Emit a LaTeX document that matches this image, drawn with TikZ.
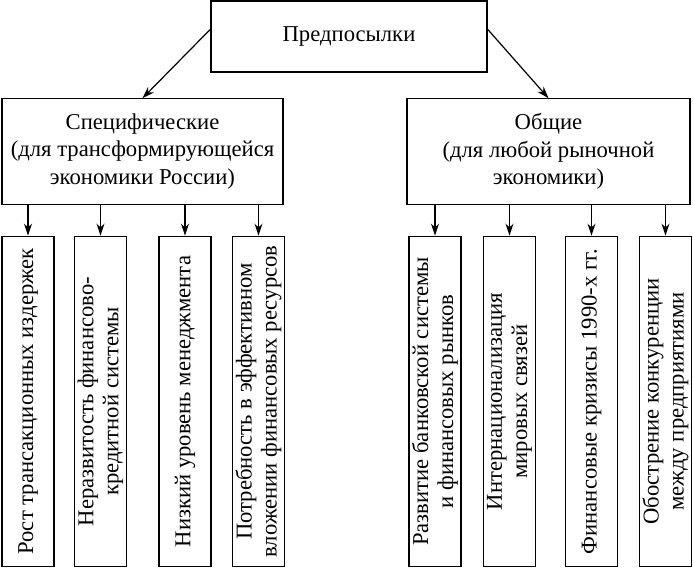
\documentclass[tikz,border=0pt]{standalone}
\usepackage{fontspec}
\setmainfont{Liberation Serif}
\usetikzlibrary{arrows.meta}

\tikzset{
  box/.style={draw, line width=0.9pt, inner sep=1pt, align=center, font=\fontsize{17}{20.5}\selectfont},
  vbox/.style={box, rotate=90, minimum width=248pt, minimum height=39pt, font=\fontsize{17}{18.8}\selectfont},
  arr/.style={line width=0.9pt, -{Stealth[length=9pt,width=6pt]}}
}

\begin{document}
\begin{tikzpicture}[x=0.75pt,y=0.75pt,yscale=-1,xscale=1]
\useasboundingbox (0,0) rectangle (693,569);

%Shape: Rectangle [top]
\node (pre) at (349,36.5) [box, minimum width=207pt, minimum height=53.25pt] {Предпосылки};

%Shape: Rectangle [middle]
\node (spec) at (142.5,151.5) [box, minimum width=210.75pt, minimum height=79pt] {Специфические\\(для трансформирующейся\\экономики России)};
\node (gen) at (548.5,151.5) [box, minimum width=212.25pt, minimum height=79pt] {Общие\\(для любой рыночной\\экономики)};

%Shape: Rectangle [bottom, left]
\node (s1) at (28,401.5) [vbox] {Рост трансакционных издержек};
\node (s2) at (100.5,401.5) [vbox] {Неразвитость финансово-\\кредитной системы};
\node (s3) at (185,401.5) [vbox] {Низкий уровень менеджмента};
\node (s4) at (258.5,401.5) [vbox] {Потребность в эффективном\\вложении финансовых ресурсов};

%Shape: Rectangle [bottom, right]
\node (g1) at (435,401.5) [vbox] {Развитие банковской системы\\и финансовых рынков};
\node (g2) at (509.5,401.5) [vbox] {Интернационализация\\мировых связей};
\node (g3) at (591.5,401.5) [vbox] {Финансовые кризисы 1990-х гг.};
\node (g4) at (665.5,401.5) [vbox] {Обострение конкуренции\\между предприятиями};

%Straight Lines
\draw [arr] (pre.177) -- (spec.north);
\draw [arr] (pre.3) -- (gen.north);
\foreach \n in {s1,s2,s3,s4}
  \draw [arr] (spec.south -| \n.east) -- (\n.east);
\foreach \n in {g1,g2,g3,g4}
  \draw [arr] (gen.south -| \n.east) -- (\n.east);

\end{tikzpicture}
\end{document}
